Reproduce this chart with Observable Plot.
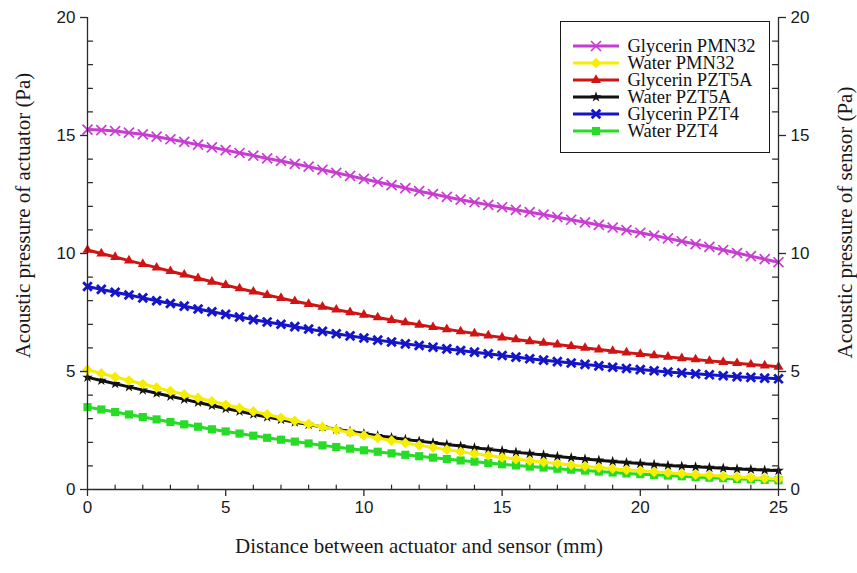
<!DOCTYPE html>
<html><head><meta charset="utf-8">
<script src="https://cdn.jsdelivr.net/npm/d3@7"></script>
<script src="https://cdn.jsdelivr.net/npm/@observablehq/plot@0.6"></script>
<style>
body{margin:0;background:#fff;}
#wrap{position:relative;width:857px;height:573px;overflow:hidden;}
#legend{position:absolute;left:560px;top:21px;width:210px;height:132px;border:1.5px solid #1a1a1a;box-sizing:border-box;background:#fff;font-family:"Liberation Serif","Times New Roman",serif;font-size:18.5px;color:#111;padding-top:15.5px;}
.row{display:flex;align-items:center;height:17px;white-space:nowrap;}
.row svg{margin-left:11.5px;margin-right:9px;flex:none;}
.row span{display:inline-block;height:16px;line-height:16px;}
</style></head><body>
<div id="wrap"><div id="chart"></div><div id="legend"></div></div>
<script>
// ---- data ----
const distance = [0,0.5,1,1.5,2,2.5,3,3.5,4,4.5,5,5.5,6,6.5,7,7.5,8,8.5,9,9.5,10,10.5,11,11.5,12,12.5,13,13.5,14,14.5,15,15.5,16,16.5,17,17.5,18,18.5,19,19.5,20,20.5,21,21.5,22,22.5,23,23.5,24,24.5,25];

const glycerinPMN32 = [15.25,15.23,15.19,15.12,15.05,14.95,14.84,14.73,14.61,14.50,14.38,14.26,14.15,14.03,13.92,13.80,13.68,13.55,13.42,13.29,13.16,13.03,12.90,12.77,12.64,12.52,12.40,12.28,12.17,12.06,11.96,11.85,11.75,11.65,11.54,11.43,11.32,11.21,11.10,10.99,10.88,10.76,10.64,10.52,10.40,10.28,10.15,10.02,9.89,9.76,9.63];
const waterPMN32 = [5.07,4.92,4.77,4.62,4.47,4.32,4.17,4.03,3.88,3.74,3.59,3.45,3.31,3.18,3.04,2.91,2.78,2.65,2.53,2.41,2.29,2.18,2.07,1.97,1.87,1.78,1.69,1.60,1.52,1.44,1.36,1.29,1.22,1.16,1.10,1.04,0.98,0.93,0.88,0.83,0.79,0.75,0.71,0.67,0.63,0.60,0.56,0.53,0.50,0.47,0.44];
const glycerinPZT5A = [10.15,10.00,9.85,9.70,9.55,9.40,9.25,9.10,8.95,8.80,8.66,8.52,8.38,8.24,8.11,7.98,7.86,7.74,7.62,7.51,7.40,7.29,7.18,7.08,6.98,6.88,6.79,6.70,6.61,6.52,6.44,6.36,6.28,6.21,6.14,6.07,6.00,5.93,5.87,5.80,5.74,5.68,5.62,5.56,5.51,5.45,5.40,5.35,5.30,5.25,5.20];
const waterPZT5A = [4.75,4.62,4.48,4.35,4.21,4.08,3.95,3.82,3.69,3.56,3.43,3.31,3.19,3.07,2.96,2.85,2.75,2.65,2.55,2.46,2.37,2.28,2.20,2.12,2.05,1.98,1.91,1.84,1.77,1.70,1.64,1.58,1.52,1.46,1.40,1.35,1.29,1.24,1.19,1.14,1.10,1.06,1.02,0.99,0.96,0.93,0.90,0.87,0.85,0.82,0.80];
const glycerinPZT4 = [8.60,8.48,8.36,8.24,8.12,8.00,7.88,7.77,7.65,7.53,7.42,7.31,7.20,7.10,7.00,6.90,6.80,6.70,6.60,6.51,6.42,6.33,6.25,6.17,6.10,6.03,5.96,5.89,5.82,5.75,5.68,5.61,5.54,5.48,5.42,5.36,5.30,5.24,5.18,5.13,5.08,5.03,4.98,4.94,4.90,4.86,4.82,4.78,4.75,4.72,4.69];
const waterPZT4 = [3.49,3.39,3.28,3.18,3.07,2.97,2.86,2.76,2.66,2.55,2.46,2.37,2.28,2.19,2.11,2.03,1.95,1.87,1.80,1.73,1.66,1.60,1.53,1.47,1.41,1.35,1.29,1.23,1.18,1.12,1.07,1.02,0.97,0.93,0.88,0.84,0.80,0.76,0.72,0.68,0.65,0.62,0.59,0.56,0.53,0.50,0.48,0.45,0.43,0.41,0.39];

const seriesNames = ["Glycerin PMN32","Water PMN32","Glycerin PZT5A","Water PZT5A","Glycerin PZT4","Water PZT4"];
const seriesValues = [glycerinPMN32, waterPMN32, glycerinPZT5A, waterPZT5A, glycerinPZT4, waterPZT4];

const xMajorTicks = [0,5,10,15,20,25];
const xMinorTicks = [1,2,3,4,6,7,8,9,11,12,13,14,16,17,18,19,21,22,23,24];
const yMajorTicks = [0,5,10,15,20];
const yMinorTicks = [1,2,3,4,6,7,8,9,11,12,13,14,16,17,18,19];

const xTitle = "Distance between actuator and sensor (mm)";
const yLeftTitle = "Acoustic pressure of actuator (Pa)";
const yRightTitle = "Acoustic pressure of sensor (Pa)";

// ---- styles ----
const styles = [
  {color:"#c83cd2", symbol:"times", r:4.6, sw:1.7, filled:false},
  {color:"#f6ee00", symbol:"diamond2", r:4.8, filled:true},
  {color:"#d01414", symbol:"triangle", r:3.7, filled:true},
  {color:"#111111", symbol:"star", r:3.4, filled:true},
  {color:"#1414c8", symbol:"times", r:4.0, sw:2.8, filled:false},
  {color:"#26dc26", symbol:"square", r:4.6, filled:true}
];
const d3Symbols = {times:d3.symbolTimes, diamond2:d3.symbolDiamond2, triangle:d3.symbolTriangle, star:d3.symbolStar, square:d3.symbolSquare};

const rows = seriesNames.map((name, i) => ({name, i, pts: distance.map((d, k) => ({d, v: seriesValues[i][k]}))}));

const tickShape = {draw(context, l) { context.moveTo(0, 0); context.lineTo(0, -l); }};
const axisColor = "#2a2a2a";

const seriesMarks = [];
for (let i = rows.length - 1; i >= 0; i--) {
  const s = styles[i];
  seriesMarks.push(Plot.line(rows[i].pts, {x:"d", y:"v", stroke:s.color, strokeWidth:3}));
  seriesMarks.push(Plot.dot(rows[i].pts, s.filled
    ? {x:"d", y:"v", symbol:s.symbol, r:s.r, fill:s.color, stroke:"none"}
    : {x:"d", y:"v", symbol:s.symbol, r:s.r, stroke:s.color, strokeWidth:s.sw, fill:"none"}));
}

const titleFont = '"Liberation Serif", "Times New Roman", serif';
const chart = Plot.plot({
  width: 857, height: 573,
  marginLeft: 87, marginRight: 79, marginTop: 17, marginBottom: 84,
  style: {fontFamily:'"Liberation Sans", Arial, sans-serif', fontSize:"17px", color:"#1a1a1a", background:"#fff", overflow:"visible"},
  x: {domain:[0,25]},
  y: {domain:[0,20]},
  marks: [
    ...seriesMarks,
    Plot.ruleX([0, 25], {stroke:axisColor, strokeWidth:1.3}),
    Plot.ruleY([0], {stroke:axisColor, strokeWidth:1.3}),
    Plot.axisX({ticks:xMajorTicks, tickSize:7, tickPadding:4, label:null, stroke:axisColor, strokeWidth:1.3, fontSize:17}),
    Plot.axisY({anchor:"left", ticks:yMajorTicks, tickSize:7, tickPadding:5, label:null, stroke:axisColor, strokeWidth:1.3, fontSize:17}),
    Plot.axisY({anchor:"right", ticks:yMajorTicks, tickSize:7, tickPadding:5, label:null, stroke:axisColor, strokeWidth:1.3, fontSize:17}),
    Plot.vectorX(xMinorTicks, {frameAnchor:"bottom", length:4.5, rotate:0, anchor:"start", shape:tickShape, stroke:axisColor, strokeWidth:1.2}),
    Plot.vectorY(yMinorTicks, {frameAnchor:"left", length:5, rotate:90, anchor:"start", shape:tickShape, stroke:axisColor, strokeWidth:1.2}),
    Plot.vectorY(yMinorTicks, {frameAnchor:"right", length:6, rotate:-90, anchor:"start", shape:tickShape, stroke:axisColor, strokeWidth:1.2}),
    Plot.text([xTitle], {frameAnchor:"bottom", textAnchor:"middle", dx:-14, dy:63, fontFamily:titleFont, fontSize:21, fill:"#1a1a1a"}),
    Plot.text([yLeftTitle], {frameAnchor:"left", textAnchor:"middle", rotate:-90, dx:-64, dy:-38, fontFamily:titleFont, fontSize:21, fill:"#1a1a1a"}),
    Plot.text([yRightTitle], {frameAnchor:"right", textAnchor:"middle", rotate:-90, dx:67, dy:-31, fontFamily:titleFont, fontSize:21, fill:"#1a1a1a"})
  ]
});
document.getElementById("chart").appendChild(chart);

// ---- legend ----
const legend = d3.select("#legend");
seriesNames.forEach((name, i) => {
  const s = styles[i];
  const row = legend.append("div").attr("class","row");
  const svg = row.append("svg").attr("width",46).attr("height",14);
  svg.append("line").attr("x1",0).attr("x2",46).attr("y1",7).attr("y2",7).attr("stroke",s.color).attr("stroke-width",3);
  const path = d3.symbol(d3Symbols[s.symbol], Math.PI * s.r * s.r)();
  const p = svg.append("path").attr("d", path).attr("transform","translate(23,7)");
  if (s.filled) p.attr("fill", s.color); else p.attr("fill","none").attr("stroke", s.color).attr("stroke-width", s.sw);
  row.append("span").text(name);
});
</script>
</body></html>
